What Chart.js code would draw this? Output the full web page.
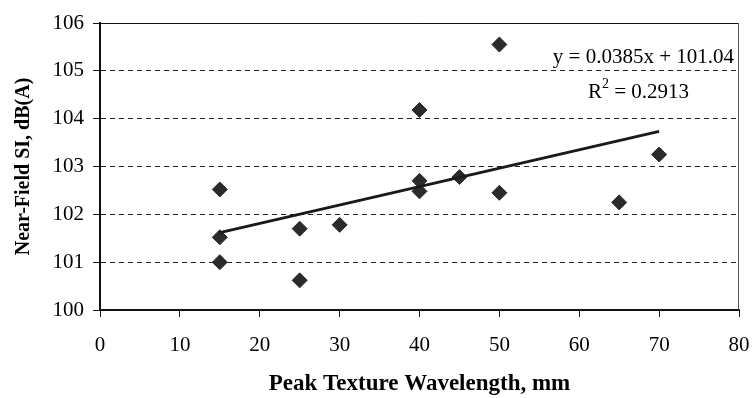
<!DOCTYPE html>
<html>
<head>
<meta charset="utf-8">
<script src="https://cdn.jsdelivr.net/npm/chart.js@4/dist/chart.umd.min.js"></script>
<style>
  body { margin: 0; background: #fff; }
</style>
</head>
<body>
<canvas id="grafico" width="752" height="398"></canvas>
<script>
// valores (comprimento de onda x nivel)
const comprimentos = [15, 15, 15, 25, 25, 30, 40, 40, 40, 45, 50, 50, 65, 70];
const niveis = [102.52, 101.52, 101.0, 101.7, 100.62, 101.78, 104.18, 102.7, 102.48, 102.78, 105.55, 102.45, 102.25, 103.25];
const ticksX = [0, 10, 20, 30, 40, 50, 60, 70, 80];
const ticksY = [100, 101, 102, 103, 104, 105, 106];
// linha de tendencia mostrada no grafico
const inclinacao = 0.0385;
const intercepto = 101.04;
const r2 = 0.2913;
const trendX = [15, 70];

const pontos = comprimentos.map((x, i) => ({ x: x, y: niveis[i] }));
const tendencia = trendX.map(x => ({ x: x, y: inclinacao * x + intercepto }));

const fonte = 'Liberation Serif, Times New Roman, serif';

// moldura (topo e direita) e texto da equacao
const extras = {
  id: 'extras',
  afterDraw(chart) {
    const { ctx, chartArea: a } = chart;
    ctx.save();
    ctx.lineWidth = 1;
    ctx.strokeStyle = '#111';
    ctx.beginPath();
    ctx.moveTo(a.left, a.top + 0.5);
    ctx.lineTo(a.right, a.top + 0.5);
    ctx.stroke();
    ctx.strokeStyle = '#555';
    ctx.beginPath();
    ctx.moveTo(a.right - 0.5, a.top);
    ctx.lineTo(a.right - 0.5, a.bottom);
    ctx.stroke();

    ctx.fillStyle = '#000';
    ctx.font = '21px ' + fonte;
    ctx.textBaseline = 'alphabetic';
    ctx.textAlign = 'right';
    ctx.fillText('y = ' + inclinacao + 'x + ' + intercepto.toFixed(2), a.right - 5, a.top + 40);

    ctx.textAlign = 'left';
    let x = a.right - 151;
    const yb = a.top + 75;
    ctx.fillText('R', x, yb);
    x += ctx.measureText('R').width;
    ctx.font = '14px ' + fonte;
    ctx.fillText('2', x, yb - 10);
    x += ctx.measureText('2').width;
    ctx.font = '21px ' + fonte;
    ctx.fillText(' = ' + r2, x, yb);
    ctx.restore();
  }
};

new Chart(document.getElementById('grafico'), {
  type: 'scatter',
  data: {
    datasets: [{
      label: 'SI',
      data: pontos,
      pointStyle: 'rectRot',
      pointRadius: 7.5,
      pointBackgroundColor: '#2b2b2b',
      pointBorderColor: '#2b2b2b',
      pointBorderWidth: 1,
      order: 1
    }, {
      type: 'line',
      label: 'Tendência',
      data: tendencia,
      borderColor: '#1a1a1a',
      borderWidth: 3,
      pointRadius: 0,
      fill: false,
      order: 0
    }]
  },
  plugins: [extras],
  options: {
    responsive: false,
    animation: false,
    layout: { padding: { left: 0, top: 23, right: 13, bottom: 0 } },
    plugins: {
      legend: { display: false },
      tooltip: { enabled: false }
    },
    scales: {
      x: {
        type: 'linear',
        min: 0,
        max: 80,
        afterBuildTicks: s => { s.ticks = ticksX.map(v => ({ value: v })); },
        afterFit: s => { s.height = 88; s.paddingRight = 0; s.paddingLeft = 0; },
        grid: {
          drawOnChartArea: false,
          drawTicks: true,
          tickLength: 7,
          tickColor: '#111',
          tickWidth: 1
        },
        border: { display: true, color: '#111', width: 2 },
        ticks: {
          color: '#000',
          padding: 16,
          maxRotation: 0,
          font: { family: fonte, size: 21 }
        },
        title: {
          display: true,
          text: 'Peak Texture Wavelength, mm',
          color: '#000',
          font: { family: fonte, size: 23, weight: 'bold' },
          padding: { top: 0, bottom: 0 }
        }
      },
      y: {
        min: 100,
        max: 106,
        afterBuildTicks: s => { s.ticks = ticksY.map(v => ({ value: v })); },
        afterFit: s => { s.width = 100; },
        grid: {
          color: '#222',
          lineWidth: 1,
          drawTicks: true,
          tickLength: 7,
          tickColor: '#111',
          tickWidth: 1
        },
        border: { display: true, color: '#111', width: 2, dash: [5, 4] },
        ticks: {
          color: '#000',
          padding: 9,
          font: { family: fonte, size: 21 }
        },
        title: {
          display: true,
          text: 'Near-Field SI, dB(A)',
          color: '#000',
          font: { family: fonte, size: 20, weight: 'bold' },
          padding: { top: 12, bottom: 0 }
        }
      }
    }
  }
});
</script>
</body>
</html>
